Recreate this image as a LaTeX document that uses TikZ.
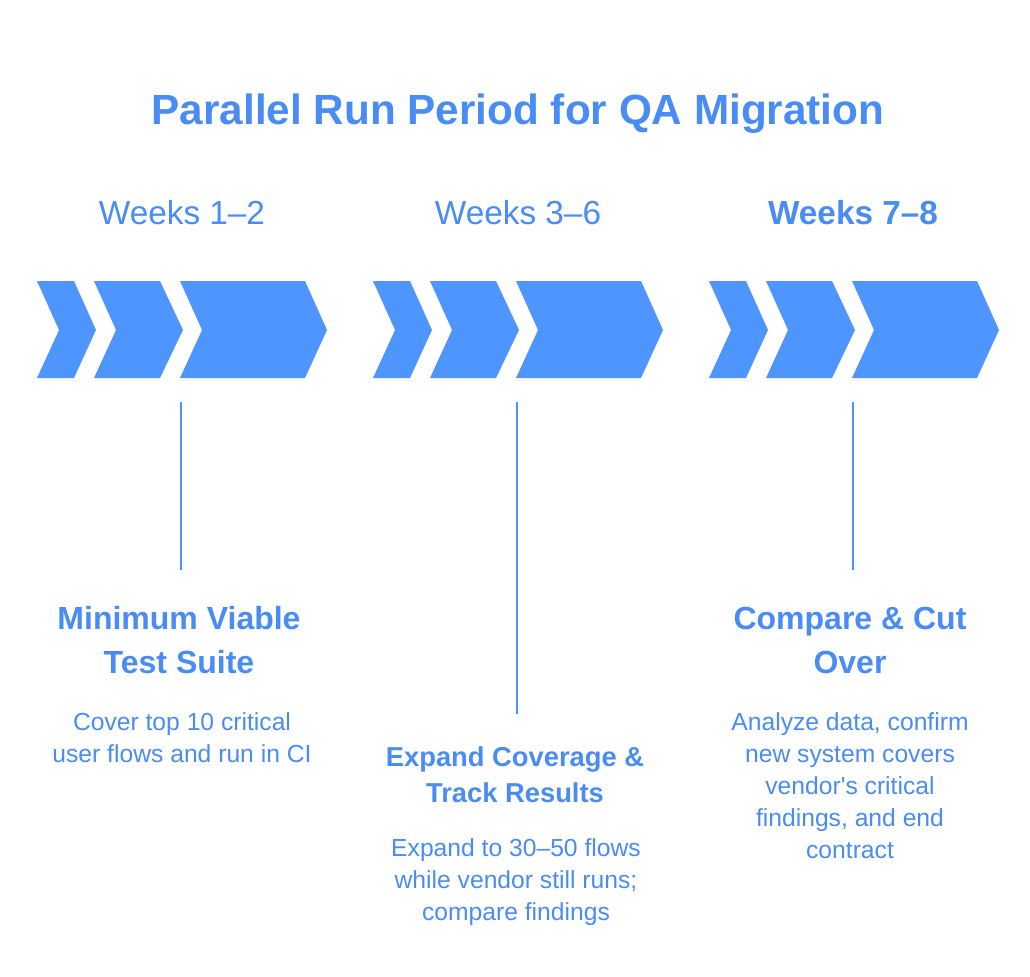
\documentclass[tikz,border=0pt]{standalone}
\usepackage{fontspec}
\setmainfont{Liberation Sans}
\newfontfamily\plainsans{Liberation Sans}
\usetikzlibrary{positioning}
\definecolor{qablue}{HTML}{4F95FF}
\definecolor{qatext}{HTML}{4A8CF5}
\tikzset{
  chev/.style={fill=qablue, draw=none},
  week/.style={text=qatext, font=\fontsize{25}{28}\selectfont},
  phase/.style={text=qatext, font=\bfseries\fontsize{23}{25}\selectfont, align=center},
  desc/.style={text=qatext, font=\fontsize{18.5}{24}\selectfont, align=center},
  stem/.style={draw=qablue, line width=1pt}
}
\begin{document}
\begin{tikzpicture}[x=0.75pt,y=-0.75pt]
  \useasboundingbox (0,0) rectangle (1030,976);

  \node[text=qatext, font=\bfseries\fontsize{31.7}{34}\selectfont] (title) at (518,114) {Parallel Run Period for QA Migration};

  % chevron groups
  \foreach \o in {0,336,672} {
    \fill[chev] (37+\o,281) -- (74+\o,281) -- (96+\o,330) -- (74+\o,378) -- (37+\o,378) -- (59+\o,330) -- cycle;
    \fill[chev] (94+\o,281) -- (160+\o,281) -- (183+\o,330) -- (160+\o,378) -- (94+\o,378) -- (116+\o,330) -- cycle;
    \fill[chev] (180+\o,281) -- (305+\o,281) -- (327+\o,330) -- (305+\o,378) -- (180+\o,378) -- (202+\o,330) -- cycle;
  }

  \node[week] (w1) at (182,213) {Weeks 1–2};
  \node[week] (w2) at (518,213) {Weeks 3–6};
  \node[week, font=\bfseries\fontsize{25}{28}\selectfont] (w3) at (853,213) {Weeks 7–8};

  \coordinate (t1) at (181,402);
  \coordinate (b1) at (181,570);
  \coordinate (t2) at (517,402);
  \coordinate (b2) at (517,714);
  \coordinate (t3) at (853,402);
  \coordinate (b3) at (853,570);
  \draw[stem] (t1) -- (b1);
  \draw[stem] (t2) -- (b2);
  \draw[stem] (t3) -- (b3);

  \node[phase, font=\bfseries\fontsize{24}{33}\selectfont] (p1) at (179,640) {Minimum Viable\\Test Suite};
  \node[desc] (d1) at (182,738) {Cover top 10 critical\\user flows and run in CI};

  \node[phase, font=\bfseries\fontsize{20.5}{27}\selectfont] (p2) at (515,775) {Expand Coverage \&\\Track Results};
  \node[desc] (d2) at (516,882) {Expand to 30–50 flows\\while vendor still runs;\\compare findings};

  \node[phase, font=\bfseries\fontsize{24}{33}\selectfont] (p3) at (850,640) {Compare \& Cut\\Over};
  \node[desc] (d3) at (850,786) {Analyze data, confirm\\new system covers\\vendor{\plainsans'}s critical\\findings, and end\\contract};
\end{tikzpicture}
\end{document}
